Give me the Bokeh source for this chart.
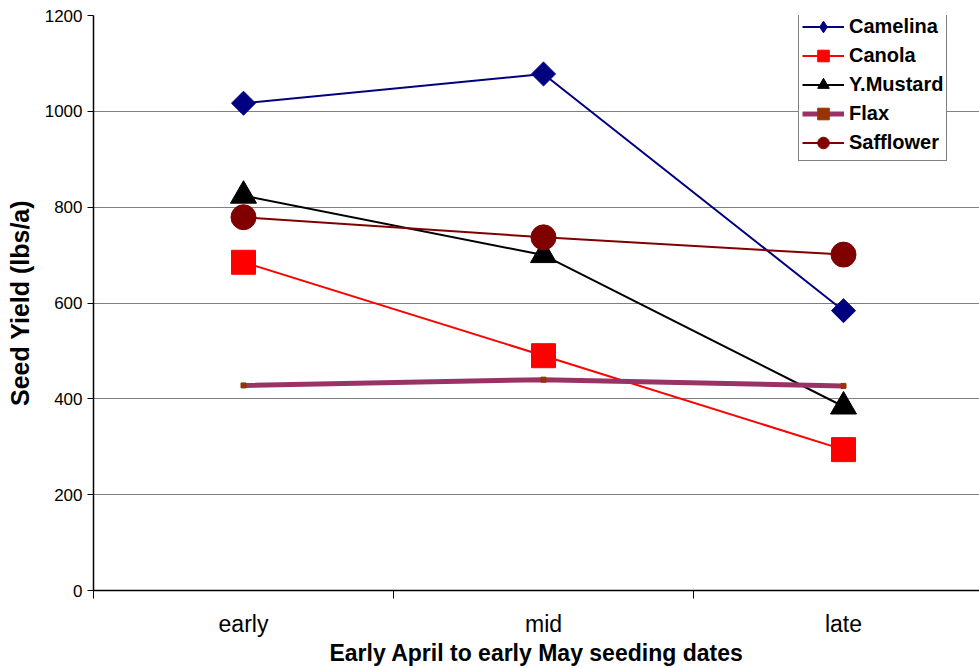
import math
from bokeh.plotting import figure
from bokeh.models import Range1d, FixedTicker, Legend, LegendItem
from bokeh.embed import file_html
from bokeh.resources import INLINE

categories = ["early", "mid", "late"]
camelina = [1017, 1078, 584]
canola = [685, 490, 294]
mustard = [824, 700, 384]
flax = [428, 440, 427]
safflower = [779, 737, 701]
y_ticks = [0, 200, 400, 600, 800, 1000, 1200]

xs = list(range(len(categories)))

p = figure(width=979, height=668, output_backend="svg", toolbar_location=None,
           x_range=Range1d(-0.5, -0.5 + 886 / 300), y_range=Range1d(0, 1200),
           min_border_left=93, min_border_right=0, min_border_top=15, min_border_bottom=78)
p.outline_line_color = None
p.background_fill_color = "white"
p.border_fill_color = "white"

FONT = "Liberation Sans"

p.xaxis.ticker = FixedTicker(ticks=xs, minor_ticks=[-0.5, 0.5, 1.5, 2.5])
p.xaxis.major_label_overrides = {i: c for i, c in enumerate(categories)}
p.xaxis.major_tick_out = 0
p.xaxis.major_tick_in = 0
p.xaxis.minor_tick_out = 8
p.xaxis.minor_tick_in = 0
p.xaxis.minor_tick_line_color = "black"
p.xaxis.axis_line_color = "black"
p.xaxis.axis_line_width = 1.5
p.xaxis.major_label_text_font = FONT
p.xaxis.major_label_text_font_size = "23px"
p.xaxis.major_label_text_color = "black"
p.xaxis.major_label_standoff = 12
p.xaxis.axis_label = "Early April to early May seeding dates"
p.xaxis.axis_label_text_font = FONT
p.xaxis.axis_label_text_font_size = "23px"
p.xaxis.axis_label_text_font_style = "bold"
p.xaxis.axis_label_text_color = "black"
p.xaxis.axis_label_standoff = 0

p.yaxis.ticker = FixedTicker(ticks=y_ticks)
p.yaxis.major_tick_out = 6
p.yaxis.major_tick_in = 0
p.yaxis.minor_tick_line_color = None
p.yaxis.axis_line_color = "black"
p.yaxis.axis_line_width = 1.5
p.yaxis.major_tick_line_color = "black"
p.yaxis.major_label_text_font = FONT
p.yaxis.major_label_text_font_size = "17px"
p.yaxis.major_label_text_color = "black"
p.yaxis.major_label_standoff = 5
p.yaxis.axis_label = "Seed Yield (lbs/a)"
p.yaxis.axis_label_text_font = FONT
p.yaxis.axis_label_text_font_size = "25px"
p.yaxis.axis_label_text_font_style = "bold"
p.yaxis.axis_label_text_color = "black"
p.yaxis.axis_label_standoff = 8

p.xgrid.grid_line_color = None
p.ygrid.ticker = FixedTicker(ticks=y_ticks[1:])
p.ygrid.grid_line_color = "#808080"
p.ygrid.grid_line_width = 1

items = []

l = p.line(xs, camelina, line_color="#000080", line_width=2)
lg = p.scatter(xs, camelina, marker="diamond", size=14,
               fill_color="#000080", line_color="#000080")
p.scatter(xs, camelina, marker="square", angle=math.pi / 4, size=17,
          fill_color="#000080", line_color="#000080")
items.append(LegendItem(label="Camelina", renderers=[l, lg]))

l = p.line(xs, canola, line_color="#FF0000", line_width=2)
s = p.scatter(xs, canola, marker="square", size=24, fill_color="#FF0000", line_color="#FF0000")
items.append(LegendItem(label="Canola", renderers=[l, s]))

l = p.line(xs, mustard, line_color="black", line_width=2)
s = p.scatter(xs, mustard, marker="triangle", size=26, fill_color="black", line_color="black")
items.append(LegendItem(label="Y.Mustard", renderers=[l, s]))

l = p.line(xs, flax, line_color="#993366", line_width=5)
s = p.scatter(xs, flax, marker="square", size=5, fill_color="#993300", line_color="#993300")
items.append(LegendItem(label="Flax", renderers=[l, s]))

l = p.line(xs, safflower, line_color="#800000", line_width=2)
s = p.scatter(xs, safflower, marker="circle", size=25, fill_color="#800000", line_color="#800000")
items.append(LegendItem(label="Safflower", renderers=[l, s]))

legend = Legend(items=items, location=(705, 429), orientation="vertical",
                label_text_font=FONT, label_text_font_size="20px", label_text_font_style="bold",
                label_text_color="black", glyph_width=42, glyph_height=29,
                spacing=0, padding=3, margin=0, label_standoff=5,
                border_line_color="black", border_line_width=1,
                background_fill_color="white", background_fill_alpha=1)
p.add_layout(legend, "center")

open("out.html", "w").write(file_html(p, INLINE))
